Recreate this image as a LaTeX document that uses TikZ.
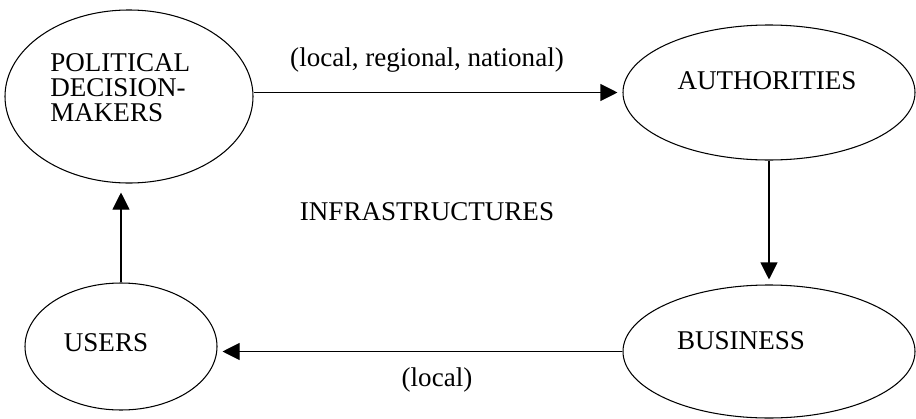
\documentclass[tikz,border=0pt]{standalone}
\usepackage{fontspec}
\setmainfont{Liberation Serif}
\usepackage{tikz}
\usetikzlibrary{arrows.meta,shapes.geometric}

\begin{document}
\begin{tikzpicture}[
    ell/.style={draw,ellipse,line width=0.6pt,inner sep=0pt},
    txt/.style={inner sep=0pt,font=\fontsize{15.4}{14.2}\selectfont},
    arr/.style={-{Triangle[length=0.34cm,width=0.34cm]},line width=0.6pt,shorten >=0.1cm}
  ]
  \useasboundingbox (0,0) rectangle (18.32,8.36);
  % the four actors
  \node[ell,minimum width=4.96cm,minimum height=3.46cm] (pol) at (2.58,6.43) {};
  \node[ell,minimum width=5.84cm,minimum height=2.70cm] (auth) at (15.38,6.51) {};
  \node[ell,minimum width=3.84cm,minimum height=2.54cm] (users) at (2.42,1.43) {};
  \node[ell,minimum width=5.84cm,minimum height=2.66cm] (bus) at (15.38,1.33) {};
  \node[txt,anchor=west,align=left] (poltxt) at (1.00,6.60) {POLITICAL\\DECISION-\\MAKERS};
  \node[txt] (authtxt) at (15.34,6.74) {AUTHORITIES};
  \node[txt] (userstxt) at (2.12,1.50) {USERS};
  \node[txt] (bustxt) at (14.82,1.54) {BUSINESS};
  % middle
  \node[txt] (infra) at (8.54,4.12) {INFRASTRUCTURES};
  % cycle of arrows
  \draw[arr] (pol.east |- auth.west) -- (auth.west);
  \draw[arr] (auth.south) -- (bus.north);
  \draw[arr] (bus.west) -- (bus.west -| users.east);
  \draw[arr,shorten >=0.18cm] (users.north) -- (users.north |- pol.south);
  \node[txt] (toplbl) at (8.54,7.16) {(local, regional, national)};
  \node[txt] (botlbl) at (8.74,0.76) {(local)};
\end{tikzpicture}
\end{document}
